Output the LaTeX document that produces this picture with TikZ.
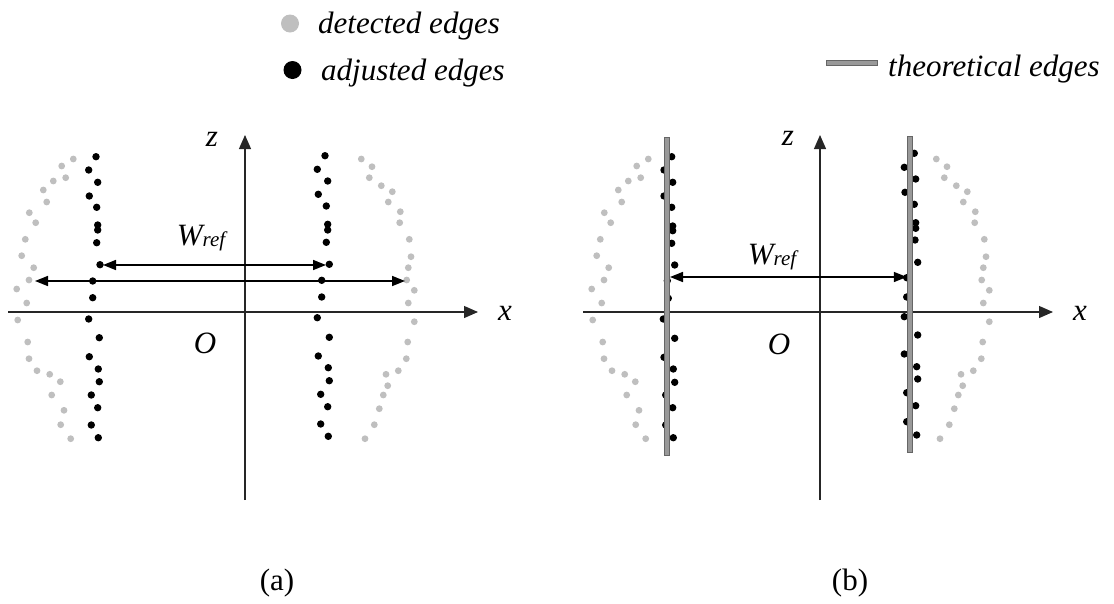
\documentclass[tikz,border=0pt]{standalone}
\usepackage{fontspec}
\setmainfont{Liberation Serif}
\usetikzlibrary{arrows.meta}
\begin{document}
\begin{tikzpicture}[x=1pt,y=-1pt,
  axisline/.style={line width=1.2pt, draw=black!85, -{Triangle[length=14pt,width=12pt]}},
  dimarrow/.style={line width=1.6pt, {Triangle[length=13pt,width=10pt]}-{Triangle[length=13pt,width=10pt]}},
  gdot/.style={fill=black!25},
  bdot/.style={fill=black},
  theo/.style={fill=black!40, draw=black!60, line width=0.6pt},
  lbl/.style={font=\fontsize{31}{36}\selectfont\itshape, inner sep=0pt},
  legtxt/.style={font=\fontsize{31}{36}\selectfont\itshape, inner sep=0pt, anchor=base west},
  captxt/.style={font=\fontsize{31}{36}\selectfont, inner sep=0pt}]
\useasboundingbox (0,0) rectangle (1114,603);

% ---------- legend ----------
\fill[gdot] (290,23.5) circle (9);
\node[legtxt] (legdet) at (318,33) {detected edges};
\fill[bdot] (292.5,70) circle (9);
\node[legtxt] (legadj) at (321,80) {adjusted edges};
\filldraw[theo] (826,60.5) rectangle (877,65);
\node[legtxt] (legtheo) at (888,76) {theoretical edges};

% ---------- panel (a) ----------
\foreach \x/\y in {73.3/159, 61.7/166, 65.7/177.7, 53.3/181, 43.3/190, 46.7/202, 29.3/212.7, 35.7/222.7, 25.3/239.3, 21.7/255.7, 33.7/267.7, 29/280, 16.7/289, 26.7/303, 17.7/320, 27.7/342, 29/358.7, 37/370.7, 49.7/374.3, 60.3/381.7, 51.7/395, 64/410.3, 60.7/424.7, 70.7/438.7,
  361.3/159, 372/166.7, 369.3/177.7, 381.3/185.7, 392.3/191.7, 388.3/202, 400.3/211.7, 399.7/222.7, 409.3/239.3, 411/256.7, 408.3/267.7, 406.7/280, 414.3/290.3, 408.3/303, 414.3/321.7, 407.7/342, 406.3/358.7, 398.3/370.7, 386/374.3, 387.7/385.7, 383.3/395, 379.3/408.7, 374.3/424.7, 365/438.7}
  {\fill[gdot] (\x,\y) circle (3.4);}
\foreach \x/\y in {96/156.7, 88.7/170, 97.7/182.3, 89.3/196, 96.7/207.3, 97.7/225, 97.7/230, 96.7/242.7, 100/264.7, 92.7/281, 92.7/297.7, 88.7/319, 99.3/337.7, 89.3/356.7, 98.3/369, 99.3/381.7, 91.3/395, 97.7/407.7, 91.3/425, 98.3/437.7,
  325/155.7, 317.3/169.3, 327.7/181, 318.3/194.3, 326.3/206, 327.7/224.3, 327.7/230, 326.3/242.3, 329.3/264.3, 321.7/280.3, 321.7/297, 317.3/317.7, 329.3/337.3, 318.3/356, 328.3/367.7, 329.3/380.7, 320.7/394.3, 327.7/406.7, 320.7/424, 328.3/436.3}
  {\fill[bdot] (\x,\y) circle (3.7);}

\coordinate (axA0) at (8,312);
\coordinate (axA1) at (478,312);
\coordinate (azA0) at (245,500);
\coordinate (azA1) at (245,135);
\draw[axisline] (axA0) -- (axA1);
\draw[axisline] (azA0) -- (azA1);
\node[lbl] (xlabA) at (505,313) {x};
\node[lbl] (zlabA) at (212,139) {z};
\node[lbl] (olabA) at (205,343) {O};

\coordinate (w1L) at (103,265);
\coordinate (w1R) at (326,265);
\coordinate (w2L) at (35,281);
\coordinate (w2R) at (405,281);
\draw[dimarrow] (w1L) -- (w1R);
\draw[dimarrow] (w2L) -- (w2R);
\node[lbl] (wlabA) at (201,238) {W\raisebox{-1pt}{\fontsize{21}{21}\selectfont ref}};
\node[captxt] (capA) at (277,583) {(a)};

% ---------- panel (b) ----------
\begin{scope}[xshift=575pt]
\foreach \x/\y in {73.3/159, 61.7/166, 65.7/177.7, 53.3/181, 43.3/190, 46.7/202, 29.3/212.7, 35.7/222.7, 25.3/239.3, 21.7/255.7, 33.7/267.7, 29/280, 16.7/289, 26.7/303, 17.7/320, 27.7/342, 29/358.7, 37/370.7, 49.7/374.3, 60.3/381.7, 51.7/395, 64/410.3, 60.7/424.7, 70.7/438.7,
  361.3/159, 372/166.7, 369.3/177.7, 381.3/185.7, 392.3/191.7, 388.3/202, 400.3/211.7, 399.7/222.7, 409.3/239.3, 411/256.7, 408.3/267.7, 406.7/280, 414.3/290.3, 408.3/303, 414.3/321.7, 407.7/342, 406.3/358.7, 398.3/370.7, 386/374.3, 387.7/385.7, 383.3/395, 379.3/408.7, 374.3/424.7, 365/438.7}
  {\fill[gdot] (\x,\y) circle (3.4);}
\end{scope}
\foreach \x/\y in {671.7/156.7, 664/170, 672.7/182.3, 664/196, 671.7/207.3, 672.7/226, 672.7/230.7, 671.7/243.3, 674.7/265, 667.3/280.7, 668.3/298.3, 663.3/319, 674.7/338.3, 664/357.3, 673.3/369, 674.7/382.3, 665.7/395, 672.7/407.7, 665.7/425, 673.3/437.7,
  914.3/153.3, 904.3/167.3, 915.7/179, 905/192.3, 914.3/204.3, 915.7/222.7, 915.7/228.3, 915/240, 917.7/262.3, 906.7/277.7, 906.7/297, 904.3/316.7, 917.7/335, 904.3/354, 916.7/366.7, 917.7/379, 906.7/392.7, 915.7/405.7, 906.7/421.7, 916.7/435}
  {\fill[bdot] (\x,\y) circle (3.7);}

\coordinate (axB0) at (583,312);
\coordinate (axB1) at (1053,312);
\coordinate (azB0) at (820,500);
\coordinate (azB1) at (820,135);
\draw[axisline] (axB0) -- (axB1);
\draw[axisline] (azB0) -- (azB1);

\filldraw[theo] (664.2,137) rectangle (669.2,455);
\filldraw[theo] (906.8,136) rectangle (911.8,452);

\node[lbl] (xlabB) at (1080,313) {x};
\node[lbl] (zlabB) at (788,138) {z};
\node[lbl] (olabB) at (779,344) {O};

\coordinate (wbL) at (670,277);
\coordinate (wbR) at (906.8,277);
\draw[dimarrow] (wbL) -- (wbR);
\node[lbl] (wlabB) at (772,257) {W\raisebox{-1pt}{\fontsize{21}{21}\selectfont ref}};
\node[captxt] (capB) at (850,583) {(b)};
\end{tikzpicture}
\end{document}
